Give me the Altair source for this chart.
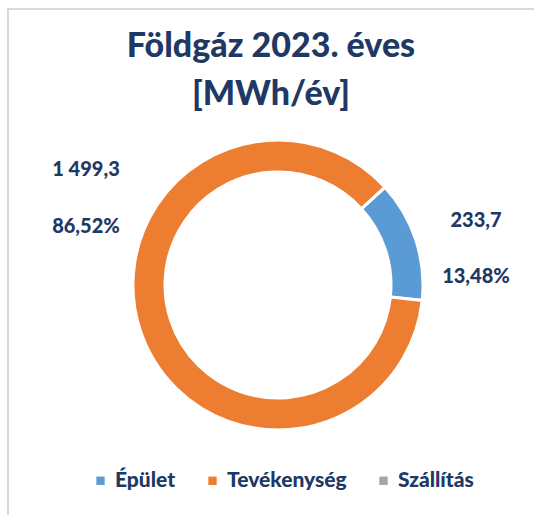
import altair as alt
import pandas as pd

categories = ["Épület", "Tevékenység", "Szállítás"]
values = [233.7, 1499.3, 0.0]
value_labels = ["233,7", "1 499,3", "0,0"]
pct_labels = ["13,48%", "86,52%", "0,00%"]
colors = ["#5B9BD5", "#ED7D31", "#A5A5A5"]
title_lines = ["Földgáz 2023. éves", "[MWh/év]"]

NAVY = "#203864"
FONT = "Lato"

df = pd.DataFrame({
    "cat": categories,
    "val": values,
    "vlab": value_labels,
    "plab": pct_labels,
    "order": [0, 1, 2],
})
tdf = pd.DataFrame({"line": title_lines, "idx": [0, 1]})

START = 0.83
TWO_PI = 6.283185307

base = alt.Chart(df)

arc = base.mark_arc(
    innerRadius=113, outerRadius=145, stroke="white", strokeWidth=3
).encode(
    theta=alt.Theta("val:Q", stack=True, scale=alt.Scale(range=[START, START + TWO_PI])),
    color=alt.Color(
        "cat:N",
        scale=alt.Scale(domain=categories, range=colors),
        sort=categories,
        legend=alt.Legend(
            title=None,
            orient="none",
            direction="horizontal",
            legendX=90,
            legendY=470,
            symbolType="square",
            symbolSize=70,
            symbolStrokeWidth=0,
            labelFont=FONT,
            labelFontSize=21,
            labelFontWeight=900,
            labelColor=NAVY,
            columnPadding=26,
            symbolOffset=0,
        ),
    ),
    order=alt.Order("order:Q"),
    x=alt.value(278),
    y=alt.value(285),
)


def label(cat, field, x, y):
    return base.transform_filter(alt.datum.cat == cat).mark_text(
        font=FONT, fontSize=20, fontWeight=900, color=NAVY, align="center", baseline="middle"
    ).encode(text=f"{field}:N", x=alt.value(x), y=alt.value(y))


def tline(i, y):
    return alt.Chart(tdf).transform_filter(alt.datum.idx == i).mark_text(
        font=FONT, fontSize=34, fontWeight=900, color=NAVY, align="center", baseline="middle"
    ).encode(text="line:N", x=alt.value(271), y=alt.value(y))


border_top = base.transform_filter(alt.datum.order == 0).mark_rule(color="#D9D9D9", strokeWidth=2).encode(
    x=alt.value(7), x2=alt.value(534), y=alt.value(9)
)
border_left = base.transform_filter(alt.datum.order == 0).mark_rule(color="#D9D9D9", strokeWidth=2).encode(
    x=alt.value(8), y=alt.value(8), y2=alt.value(515)
)

chart = alt.layer(
    border_top,
    border_left,
    arc,
    label("Tevékenység", "vlab", 86, 170),
    label("Tevékenység", "plab", 86, 227),
    label("Épület", "vlab", 476, 221),
    label("Épület", "plab", 476, 277),
    tline(0, 47),
    tline(1, 95),
).properties(
    width=534, height=515, autosize="none", padding=0
).configure_view(stroke=None)

chart.save("out.html", embed_options={"renderer": "svg", "actions": False})
